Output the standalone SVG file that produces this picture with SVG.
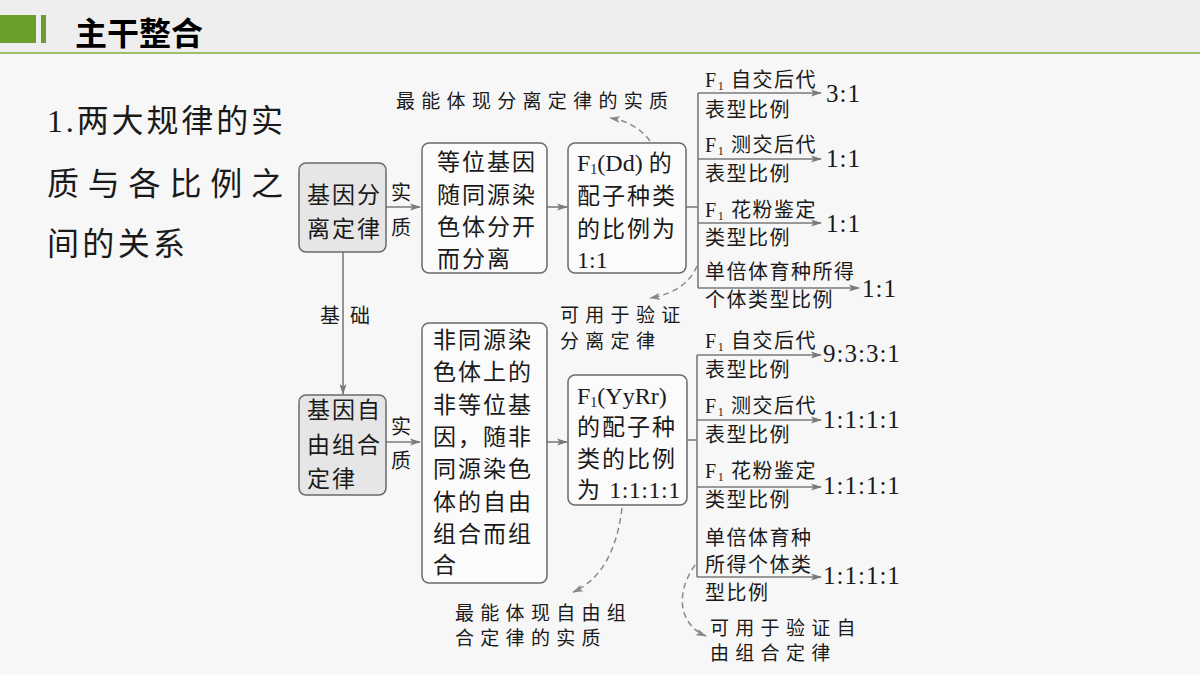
<svg xmlns="http://www.w3.org/2000/svg" width="1200" height="675" viewBox="0 0 1200 675">
<defs>
<marker id="ah" markerWidth="11" markerHeight="8" refX="10" refY="4" orient="auto" markerUnits="userSpaceOnUse">
<path d="M0,0.5 L11,4 L0,7.5 L2.5,4 z" fill="#7a7a7a"/>
</marker>
<marker id="ahd" markerWidth="11" markerHeight="8" refX="10" refY="4" orient="auto" markerUnits="userSpaceOnUse">
<path d="M0,0.5 L11,4 L0,7.5 L2.5,4 z" fill="#8a8a8a"/>
</marker>
<style>
.cj{font-family:"Noto Sans CJK SC","Noto Sans",sans-serif;fill:#1a1a1a}
.lt{font-family:"Liberation Serif","DejaVu Serif",serif;fill:#1a1a1a}
.bx{font-size:23px;letter-spacing:2px}
.lb{font-size:20px;letter-spacing:1.5px}
.an{font-size:19px;letter-spacing:6.3px}
.rt{font-size:25px;letter-spacing:1px}
.box{stroke:#6a6a6a;stroke-width:1.5;fill:#fbfbfb}
.gbox{stroke:#6a6a6a;stroke-width:1.5;fill:#e6e6e6}
.ln{stroke:#7a7a7a;stroke-width:1.6;fill:none}
.dl{stroke:#8a8a8a;stroke-width:1.5;fill:none;stroke-dasharray:6,4}
</style>
</defs>
<rect x="0" y="0" width="1200" height="675" fill="#f7f7f7"/>
<g id="header">
<rect x="0" y="0" width="1200" height="53" fill="#eeeeee"/>
<rect x="0" y="52" width="1200" height="2" fill="#9cbf6a"/>
<rect x="0" y="15" width="36" height="28" fill="#6b9e2c"/>
<rect x="41" y="15" width="5" height="28" fill="#6b9e2c"/>
<text x="75" y="45" class="cj" style="font-size:32px;font-weight:bold;fill:#000">主干整合</text>
</g>
<g id="title">
<text x="47" y="132" class="cj" style="font-size:32px" textLength="236" lengthAdjust="spacing"><tspan class="lt">1.</tspan>两大规律的实</text>
<text x="47" y="195" class="cj" style="font-size:32px" textLength="236" lengthAdjust="spacing">质与各比例之</text>
<text x="47" y="255" class="cj" style="font-size:32px" textLength="138" lengthAdjust="spacing">间的关系</text>
</g>
<g id="connectors">
<line class="ln" x1="386" y1="207" x2="420" y2="207" marker-end="url(#ah)"/>
<line class="ln" x1="547" y1="207" x2="567" y2="207" marker-end="url(#ah)"/>
<line class="ln" x1="686" y1="207" x2="698" y2="207"/>
<line class="ln" x1="698" y1="93" x2="698" y2="288"/>
<line class="ln" x1="698" y1="93" x2="821" y2="93" marker-end="url(#ah)"/>
<line class="ln" x1="698" y1="159" x2="821" y2="159" marker-end="url(#ah)"/>
<line class="ln" x1="698" y1="223" x2="821" y2="223" marker-end="url(#ah)"/>
<line class="ln" x1="698" y1="288" x2="859" y2="288" marker-end="url(#ah)"/>
<line class="ln" x1="343" y1="252" x2="343" y2="394" marker-end="url(#ah)"/>
<line class="ln" x1="386" y1="442" x2="420" y2="442" marker-end="url(#ah)"/>
<line class="ln" x1="547" y1="442" x2="567" y2="442" marker-end="url(#ah)"/>
<line class="ln" x1="687" y1="440" x2="697" y2="440"/>
<line class="ln" x1="697" y1="355" x2="697" y2="577"/>
<line class="ln" x1="697" y1="355" x2="821" y2="355" marker-end="url(#ah)"/>
<line class="ln" x1="697" y1="420" x2="821" y2="420" marker-end="url(#ah)"/>
<line class="ln" x1="697" y1="487" x2="821" y2="487" marker-end="url(#ah)"/>
<line class="ln" x1="697" y1="577" x2="821" y2="577" marker-end="url(#ah)"/>
<path class="dl" d="M650,141 Q636,122 610,118" marker-end="url(#ahd)"/>
<path class="dl" d="M697,266 Q686,292 650,298" marker-end="url(#ahd)"/>
<path class="dl" d="M622,508 Q614,574 573,592" marker-end="url(#ahd)"/>
<path class="dl" d="M695,565 C674,595 680,625 706,636" marker-end="url(#ahd)"/>
<text x="320" y="323" class="cj lb">基</text>
<text x="350" y="323" class="cj lb">础</text>
<text x="391" y="200" class="cj lb">实</text>
<text x="391" y="235" class="cj lb">质</text>
<text x="391" y="434" class="cj lb">实</text>
<text x="391" y="468" class="cj lb">质</text>
</g>
<g id="n1">
<rect class="gbox" x="299" y="163" width="87" height="89" rx="7"/>
<text x="307" y="203" class="cj bx">基因分</text>
<text x="307" y="237" class="cj bx">离定律</text>
</g>
<g id="n2">
<rect class="box" x="422" y="143" width="125" height="130" rx="7"/>
<text x="437" y="170" class="cj bx">等位基因</text>
<text x="437" y="203" class="cj bx">随同源染</text>
<text x="437" y="235" class="cj bx">色体分开</text>
<text x="437" y="267" class="cj bx">而分离</text>
</g>
<g id="n3">
<rect class="box" x="568" y="143" width="118" height="130" rx="7"/>
<text x="577" y="171" class="cj bx"><tspan class="lt" style="font-size:24px;letter-spacing:0">F</tspan><tspan class="lt" style="font-size:14px;letter-spacing:0" dy="3">1</tspan><tspan class="lt" style="font-size:24px;letter-spacing:0" dy="-3">(Dd) </tspan>的</text>
<text x="577" y="204" class="cj bx">配子种类</text>
<text x="577" y="237" class="cj bx">的比例为</text>
<text x="577" y="268" class="lt" style="font-size:24px">1:1</text>
</g>
<g id="n4">
<rect class="gbox" x="299" y="395" width="87" height="100" rx="7"/>
<text x="307" y="418" class="cj bx">基因自</text>
<text x="307" y="453" class="cj bx">由组合</text>
<text x="307" y="487" class="cj bx">定律</text>
</g>
<g id="n5">
<rect class="box" x="422" y="323" width="125" height="260" rx="7"/>
<text x="433" y="348" class="cj bx">非同源染</text>
<text x="433" y="380" class="cj bx">色体上的</text>
<text x="433" y="413" class="cj bx">非等位基</text>
<text x="433" y="445" class="cj bx">因，随非</text>
<text x="433" y="477" class="cj bx">同源染色</text>
<text x="433" y="510" class="cj bx">体的自由</text>
<text x="433" y="542" class="cj bx">组合而组</text>
<text x="433" y="573" class="cj bx">合</text>
</g>
<g id="n6">
<rect class="box" x="568" y="375" width="119" height="130" rx="7"/>
<text x="577" y="404" class="lt" style="font-size:24px">F<tspan style="font-size:14px" dy="3">1</tspan><tspan dy="-3">(YyRr)</tspan></text>
<text x="577" y="435" class="cj bx">的配子种</text>
<text x="577" y="467" class="cj bx">类的比例</text>
<text x="577" y="498" class="cj bx">为 <tspan class="lt" style="font-size:24px;letter-spacing:0.5px">1:1:1:1</tspan></text>
</g>
<g id="b1">
<text x="705" y="87" class="cj lb"><tspan class="lt">F</tspan><tspan class="lt" style="font-size:12px" dy="3">1</tspan><tspan dy="-3"> 自交后代</tspan></text>
<text x="705" y="117" class="cj lb">表型比例</text>
<text x="826" y="102" class="lt rt">3:1</text>
<text x="705" y="152" class="cj lb"><tspan class="lt">F</tspan><tspan class="lt" style="font-size:12px" dy="3">1</tspan><tspan dy="-3"> 测交后代</tspan></text>
<text x="705" y="181" class="cj lb">表型比例</text>
<text x="826" y="167" class="lt rt">1:1</text>
<text x="705" y="217" class="cj lb"><tspan class="lt">F</tspan><tspan class="lt" style="font-size:12px" dy="3">1</tspan><tspan dy="-3"> 花粉鉴定</tspan></text>
<text x="705" y="245" class="cj lb">类型比例</text>
<text x="826" y="232" class="lt rt">1:1</text>
<text x="705" y="279" class="cj lb">单倍体育种所得</text>
<text x="705" y="307" class="cj lb">个体类型比例</text>
<text x="862" y="297" class="lt rt">1:1</text>
</g>
<g id="b2">
<text x="705" y="348" class="cj lb"><tspan class="lt">F</tspan><tspan class="lt" style="font-size:12px" dy="3">1</tspan><tspan dy="-3"> 自交后代</tspan></text>
<text x="705" y="377" class="cj lb">表型比例</text>
<text x="823" y="362" class="lt rt">9:3:3:1</text>
<text x="705" y="413" class="cj lb"><tspan class="lt">F</tspan><tspan class="lt" style="font-size:12px" dy="3">1</tspan><tspan dy="-3"> 测交后代</tspan></text>
<text x="705" y="442" class="cj lb">表型比例</text>
<text x="823" y="428" class="lt rt">1:1:1:1</text>
<text x="705" y="478" class="cj lb"><tspan class="lt">F</tspan><tspan class="lt" style="font-size:12px" dy="3">1</tspan><tspan dy="-3"> 花粉鉴定</tspan></text>
<text x="705" y="507" class="cj lb">类型比例</text>
<text x="823" y="494" class="lt rt">1:1:1:1</text>
<text x="705" y="545" class="cj lb">单倍体育种</text>
<text x="705" y="572" class="cj lb">所得个体类</text>
<text x="705" y="600" class="cj lb">型比例</text>
<text x="823" y="584" class="lt rt">1:1:1:1</text>
</g>
<g id="notes">
<text x="396" y="108" class="cj an">最能体现分离定律的实质</text>
<text x="560" y="322" class="cj an">可用于验证</text>
<text x="560" y="348" class="cj an">分离定律</text>
<text x="455" y="620" class="cj an">最能体现自由组</text>
<text x="455" y="645" class="cj an">合定律的实质</text>
<text x="710" y="635" class="cj an">可用于验证自</text>
<text x="710" y="660" class="cj an">由组合定律</text>
</g>
</svg>
